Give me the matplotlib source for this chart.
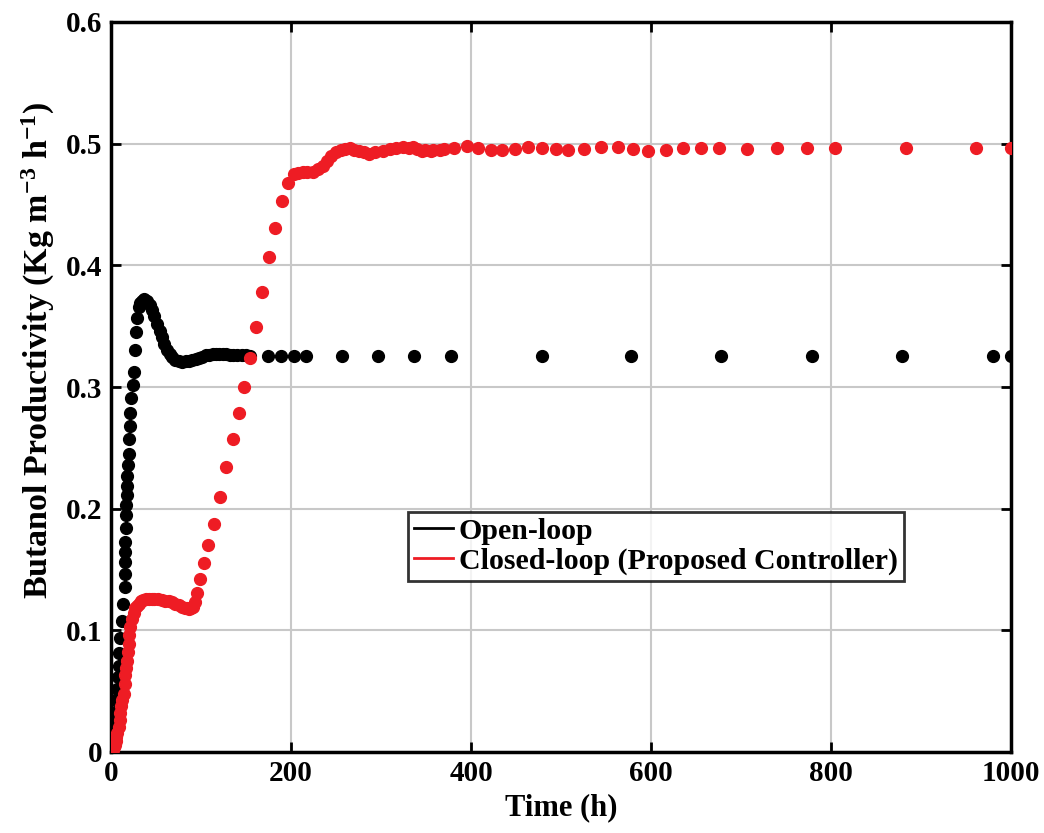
import matplotlib
matplotlib.use('Agg')
import matplotlib.pyplot as plt
from matplotlib.lines import Line2D

# open-loop (black)
t_open = [0, 1.5, 2.9, 4.3, 5.6, 6.7, 7.8, 8.5, 9.2, 10.5, 12.2, 13.5, 15.1, 15.5,
          15.9, 16.0, 16.0, 16.2, 16.7, 17.0, 17.3, 17.6, 17.9, 18.5, 19.6, 20.3,
          20.7, 21.4, 22.6, 24.0, 25.0, 26.3, 27.8, 29.0, 30.7, 32.5, 34.4, 37,
          40, 43, 45.5, 48, 51, 54, 56.7, 59, 62, 65, 67.8, 71, 75, 79, 83, 87,
          90, 94, 98, 101, 105, 109, 113, 117, 120, 124, 128, 132, 136, 140, 145,
          150, 154, 174, 189, 203, 217, 257, 297, 337, 378, 479, 578, 678, 779,
          879, 980, 1000]
y_open = [0.003, 0.012, 0.023, 0.033, 0.0425, 0.052, 0.062, 0.071, 0.081, 0.094,
          0.108, 0.122, 0.136, 0.146, 0.156, 0.164, 0.173, 0.184, 0.195, 0.203,
          0.211, 0.219, 0.227, 0.236, 0.245, 0.257, 0.268, 0.279, 0.291, 0.302,
          0.312, 0.330, 0.345, 0.357, 0.366, 0.369, 0.371, 0.372, 0.371, 0.367,
          0.363, 0.358, 0.352, 0.346, 0.341, 0.335, 0.330, 0.327, 0.3245, 0.322,
          0.321, 0.3205, 0.321, 0.3215, 0.322, 0.323, 0.324, 0.325, 0.326, 0.3265,
          0.327, 0.327, 0.3274, 0.327, 0.3268, 0.3265, 0.326, 0.326, 0.326, 0.326,
          0.3255, 0.3255, 0.3255, 0.3255, 0.3255, 0.3255, 0.3255, 0.3255, 0.3255,
          0.3255, 0.3255, 0.3255, 0.3255, 0.3255, 0.3255, 0.3255]

# closed-loop (red)
t_closed = [0, 1, 2, 3, 4, 5, 6, 7, 8.4, 9.5, 10.5, 11.5, 12.5, 14, 15, 16, 17,
            17.8, 18.7, 19.6, 20.5, 21.4, 23, 25, 27, 29, 30.7, 33, 36, 39, 41.8,
            45, 48, 52, 56.7, 60, 64, 68, 71.4, 75, 79, 82, 84.4, 87, 89, 90.7,
            93, 95.5, 99.2, 103, 107.4, 114, 120.7, 127.7, 135, 141.8, 148, 154,
            161, 168, 175, 182, 189.6, 197, 203.7, 208, 213, 218, 224, 230, 235,
            240, 244, 250, 255.5, 260, 265, 270, 276, 281, 287, 293, 302, 310,
            317, 324, 331, 336, 340, 346, 349, 355, 358, 365, 369.5, 381, 395.5,
            408, 422, 434, 449, 463.6, 478.6, 494.5, 508, 526, 544.5, 563, 579.5,
            597, 617, 636, 656, 675.5, 707, 740, 773, 804.5, 883, 961, 1000]
y_closed = [0.0, 0.001, 0.002, 0.004, 0.006, 0.009, 0.012, 0.016, 0.0205, 0.026,
            0.032, 0.038, 0.043, 0.048, 0.056, 0.063, 0.069, 0.075, 0.082, 0.089,
            0.096, 0.103, 0.109, 0.114, 0.118, 0.120, 0.122, 0.124, 0.125, 0.1255,
            0.126, 0.126, 0.126, 0.1258, 0.1252, 0.1245, 0.1237, 0.123, 0.122,
            0.121, 0.1195, 0.1185, 0.118, 0.1178, 0.118, 0.119, 0.123, 0.131,
            0.142, 0.155, 0.170, 0.1877, 0.210, 0.234, 0.2575, 0.279, 0.300,
            0.324, 0.349, 0.378, 0.407, 0.431, 0.453, 0.468, 0.475, 0.476, 0.477,
            0.477, 0.477, 0.479, 0.4815, 0.486, 0.490, 0.493, 0.495, 0.496,
            0.4966, 0.495, 0.494, 0.493, 0.4916, 0.493, 0.494, 0.496, 0.4967,
            0.497, 0.4966, 0.4975, 0.496, 0.494, 0.4945, 0.494, 0.4945, 0.495,
            0.4953, 0.4967, 0.498, 0.4967, 0.4945, 0.4945, 0.4953, 0.4973, 0.4967,
            0.4953, 0.4945, 0.4953, 0.4973, 0.4975, 0.4959, 0.494, 0.4945, 0.4967,
            0.4967, 0.4962, 0.4953, 0.4962, 0.4962, 0.4962, 0.4962, 0.4962, 0.4962]

labels = ['Open-loop', 'Closed-loop (Proposed Controller)']

plt.rcParams['font.family'] = ['Liberation Serif', 'DejaVu Serif']
plt.rcParams['font.weight'] = 'bold'
plt.rcParams['mathtext.fontset'] = 'custom'
plt.rcParams['mathtext.rm'] = 'Liberation Serif:bold'
plt.rcParams['mathtext.it'] = 'Liberation Serif:bold'
plt.rcParams['mathtext.bf'] = 'Liberation Serif:bold'

fig = plt.figure(figsize=(10.44, 8.33), dpi=100)
ax = fig.add_axes([111 / 1044, 1 - 752 / 833, 900 / 1044, 730 / 833])

ax.plot(t_open, y_open, 'o', color='black', ms=8.5, mec='black', zorder=3)
ax.plot(t_closed, y_closed, 'o', color='#ee1c24', ms=8.5, mec='#ee1c24', zorder=4)

ax.set_xlim(0, 1000)
ax.set_ylim(0, 0.6)
ax.set_xticks([0, 200, 400, 600, 800, 1000])
ax.set_yticks([0, 0.1, 0.2, 0.3, 0.4, 0.5, 0.6])
ax.set_yticklabels(['0', '0.1', '0.2', '0.3', '0.4', '0.5', '0.6'])
ax.tick_params(direction='in', length=7, width=2, labelsize=21, top=True, right=True, pad=6)
ax.grid(True, color='#c8c8c8', linewidth=1.5)
for s in ax.spines.values():
    s.set_linewidth(2.5)

ax.set_xlabel('Time (h)', fontsize=22, fontweight='bold', labelpad=4)
ax.set_ylabel(r'Butanol Productivity (Kg m$^{-3}$ h$^{-1}$)', fontsize=24.5,
              fontweight='bold')
ax.yaxis.set_label_coords(-0.06, 0.55)

handles = [Line2D([], [], color='black', lw=2),
           Line2D([], [], color='#ee1c24', lw=2)]
leg = ax.legend(handles, labels, loc='upper left', bbox_to_anchor=(0.33, 0.329),
                borderaxespad=0, fontsize=21.5, frameon=True, fancybox=False,
                handlelength=1.3, handletextpad=0.2, borderpad=0.2,
                labelspacing=0.1, edgecolor='black')
leg.get_frame().set_linewidth(2)

fig.savefig('out.png', dpi=100)
